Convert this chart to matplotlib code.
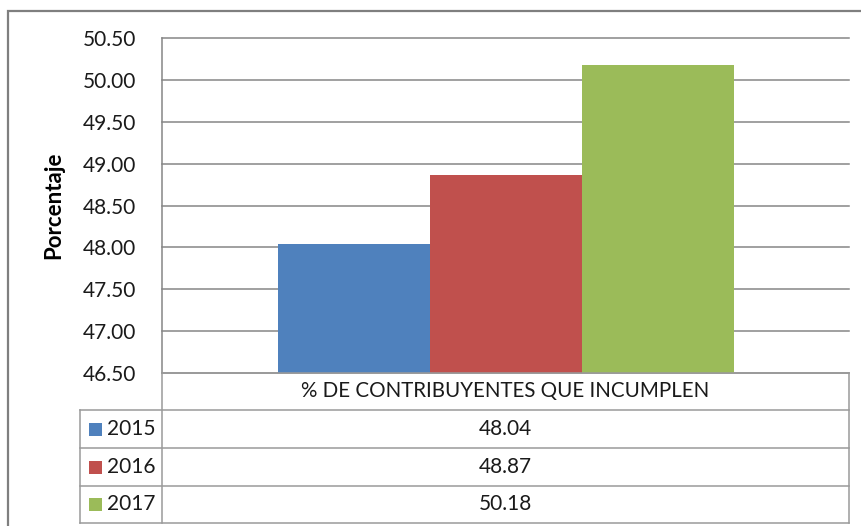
import matplotlib
matplotlib.use("Agg")
import matplotlib.pyplot as plt
from matplotlib.lines import Line2D
from matplotlib.patches import Rectangle

# ---- data ----
category = "% DE CONTRIBUYENTES QUE INCUMPLEN"
years = ["2015", "2016", "2017"]
values = [48.04, 48.87, 50.18]
colors = ["#4F81BD", "#C0504D", "#9BBB59"]
y_ticks = [46.5, 47.0, 47.5, 48.0, 48.5, 49.0, 49.5, 50.0, 50.5]
y_label = "Porcentaje"

W, H = 861, 526
FONT = "Lato"
plt.rcParams["font.family"] = [FONT, "DejaVu Sans"]
fig = plt.figure(figsize=(W / 100, H / 100), dpi=100)
fig.patch.set_facecolor("white")


def fx(px):
    return px / W


def fy(py):
    return 1 - py / H


GRID = "#868686"
TBL = "#9a9a9a"

# outer chart border
fig.add_artist(Rectangle((fx(8), fy(560)), fx(900), fy(11) - fy(560),
                         transform=fig.transFigure, fill=False,
                         edgecolor="#7f7f7f", linewidth=1.6))

# plot area
L, R, T, B = 162, 849, 38, 373
ax = fig.add_axes([fx(L), fy(B), fx(R - L), fy(T) - fy(B)])
ax.set_xlim(-0.5, 0.5)
ax.set_ylim(y_ticks[0], y_ticks[-1])
bw = 152 / (R - L)
n = len(values)
for i, (v, c) in enumerate(zip(values, colors)):
    off = (i - (n - 1) / 2) * bw
    ax.bar(off, v - y_ticks[0], bottom=y_ticks[0], width=bw, color=c,
           edgecolor="none", zorder=3)
ax.set_yticks(y_ticks)
ax.set_yticklabels([f"{t:.2f}" for t in y_ticks], fontsize=15, color="#1a1a1a")
ax.set_xticks([])
ax.tick_params(axis="y", length=0, pad=18.5)
ax.yaxis.grid(True, color=GRID, linewidth=1.1, zorder=0)
for gl in ax.yaxis.get_gridlines():
    gl.set_clip_on(False)
ax.set_axisbelow(True)
for s in ["top", "right", "bottom"]:
    ax.spines[s].set_visible(False)
ax.spines["left"].set_color(GRID)
ax.spines["left"].set_linewidth(1.1)
ax.set_ylabel(y_label, fontsize=16, fontweight="bold", color="#000000")
ax.yaxis.set_label_coords((54 - L) / (R - L), 0.5)
ax.yaxis.label.set_va("center")


def hline(y, x0, x1):
    fig.add_artist(Line2D([fx(x0), fx(x1)], [fy(y), fy(y)],
                          transform=fig.transFigure, color=TBL, linewidth=1.1))


def vline(x, y0, y1):
    fig.add_artist(Line2D([fx(x), fx(x)], [fy(y0), fy(y1)],
                          transform=fig.transFigure, color=TBL, linewidth=1.1))


# data table
rows = [410, 448, 486, 523]
TL = 80
hline(B, L, R)
for y in rows:
    hline(y, TL, R)
vline(TL, rows[0], rows[-1])
vline(L, B, rows[-1])
vline(R, B, rows[-1])

cx = (L + R) / 2
fig.text(fx(cx), fy((B + rows[0]) / 2), category, ha="center", va="center",
         fontsize=14.8, color="#1a1a1a")
for i, (yr, v, c) in enumerate(zip(years, values, colors)):
    yc = (rows[i] + rows[i + 1]) / 2
    fig.add_artist(Rectangle((fx(89), fy(yc + 6.5)), fx(12.5), fy(yc - 6.5) - fy(yc + 6.5),
                             transform=fig.transFigure, facecolor=c,
                             edgecolor="none"))
    fig.text(fx(107), fy(yc), yr, ha="left", va="center", fontsize=15,
             color="#1a1a1a")
    fig.text(fx(cx), fy(yc), f"{v:.2f}", ha="center", va="center",
             fontsize=15, color="#1a1a1a")

fig.savefig("out.png", dpi=100, facecolor="white")
